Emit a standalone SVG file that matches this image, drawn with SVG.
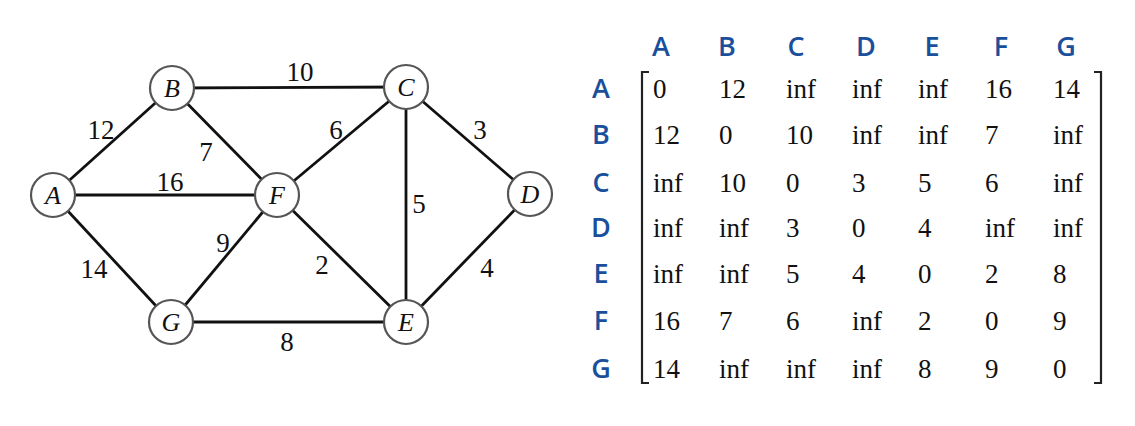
<svg xmlns="http://www.w3.org/2000/svg" width="1135" height="426" viewBox="0 0 1135 426">
<style>
.node circle{fill:#fff;stroke:#555;stroke-width:2.2}
.node text{font-family:"Liberation Serif",serif;font-style:italic;font-size:26px;text-anchor:middle;fill:#111}
.edge line{stroke:#111;stroke-width:2.8}
.w{font-family:"Liberation Serif",serif;font-size:27px;fill:#111;text-anchor:middle}
.hd{font-family:"Open Sans","Liberation Sans",sans-serif;font-size:27px;font-weight:600;fill:#1a4f9c;text-anchor:middle}
.v{font-family:"Liberation Serif",serif;font-size:27px;fill:#111}
.br{fill:none;stroke:#222;stroke-width:2.2}
</style>
<rect width="1135" height="426" fill="#fff"/>
<g id="connectors" class="edge">
<line x1="53" y1="195" x2="172" y2="88"/>
<line x1="172" y1="88" x2="406" y2="87"/>
<line x1="172" y1="88" x2="277" y2="195"/>
<line x1="53" y1="195" x2="277" y2="195"/>
<line x1="277" y1="195" x2="406" y2="87"/>
<line x1="406" y1="87" x2="530" y2="194"/>
<line x1="406" y1="87" x2="406" y2="322"/>
<line x1="53" y1="195" x2="171" y2="322"/>
<line x1="171" y1="322" x2="277" y2="195"/>
<line x1="277" y1="195" x2="406" y2="322"/>
<line x1="530" y1="194" x2="406" y2="322"/>
<line x1="171" y1="322" x2="406" y2="322"/>
</g>
<g id="edge-labels">
<text class="w" x="101" y="139">12</text>
<text class="w" x="300" y="81">10</text>
<text class="w" x="206" y="161">7</text>
<text class="w" x="170" y="191">16</text>
<text class="w" x="336" y="139">6</text>
<text class="w" x="480" y="139">3</text>
<text class="w" x="419" y="213">5</text>
<text class="w" x="223" y="252">9</text>
<text class="w" x="322" y="274">2</text>
<text class="w" x="94" y="278">14</text>
<text class="w" x="487" y="277">4</text>
<text class="w" x="287" y="351">8</text>
</g>
<g id="node-A" class="node"><circle cx="53" cy="195" r="22"/><text x="53" y="204">A</text></g>
<g id="node-B" class="node"><circle cx="172" cy="88" r="22"/><text x="172" y="97">B</text></g>
<g id="node-C" class="node"><circle cx="406" cy="87" r="22"/><text x="406" y="96">C</text></g>
<g id="node-D" class="node"><circle cx="530" cy="194" r="22"/><text x="530" y="203">D</text></g>
<g id="node-E" class="node"><circle cx="406" cy="322" r="22"/><text x="406" y="331">E</text></g>
<g id="node-F" class="node"><circle cx="277" cy="195" r="22"/><text x="277" y="204">F</text></g>
<g id="node-G" class="node"><circle cx="171" cy="322" r="22"/><text x="171" y="331">G</text></g>
<g id="matrix">
<g id="headers">
<text class="hd" x="661" y="56">A</text>
<text class="hd" x="727" y="56">B</text>
<text class="hd" x="796" y="56">C</text>
<text class="hd" x="866" y="56">D</text>
<text class="hd" x="932" y="56">E</text>
<text class="hd" x="1001" y="56">F</text>
<text class="hd" x="1066" y="56">G</text>
<text class="hd" x="601" y="98">A</text>
<text class="hd" x="601" y="144">B</text>
<text class="hd" x="601" y="192">C</text>
<text class="hd" x="601" y="237">D</text>
<text class="hd" x="601" y="283">E</text>
<text class="hd" x="601" y="330">F</text>
<text class="hd" x="601" y="378">G</text>
</g>
<path class="br" d="M649 72 H642 V383 H649"/>
<path class="br" d="M1094 72 H1101 V383 H1094"/>
<g id="values">
<text class="v" y="98"><tspan x="653">0</tspan><tspan x="719">12</tspan><tspan x="786">inf</tspan><tspan x="852">inf</tspan><tspan x="918">inf</tspan><tspan x="985">16</tspan><tspan x="1053">14</tspan></text>
<text class="v" y="144"><tspan x="653">12</tspan><tspan x="719">0</tspan><tspan x="786">10</tspan><tspan x="852">inf</tspan><tspan x="918">inf</tspan><tspan x="985">7</tspan><tspan x="1053">inf</tspan></text>
<text class="v" y="192"><tspan x="653">inf</tspan><tspan x="719">10</tspan><tspan x="786">0</tspan><tspan x="852">3</tspan><tspan x="918">5</tspan><tspan x="985">6</tspan><tspan x="1053">inf</tspan></text>
<text class="v" y="237"><tspan x="653">inf</tspan><tspan x="719">inf</tspan><tspan x="786">3</tspan><tspan x="852">0</tspan><tspan x="918">4</tspan><tspan x="985">inf</tspan><tspan x="1053">inf</tspan></text>
<text class="v" y="283"><tspan x="653">inf</tspan><tspan x="719">inf</tspan><tspan x="786">5</tspan><tspan x="852">4</tspan><tspan x="918">0</tspan><tspan x="985">2</tspan><tspan x="1053">8</tspan></text>
<text class="v" y="330"><tspan x="653">16</tspan><tspan x="719">7</tspan><tspan x="786">6</tspan><tspan x="852">inf</tspan><tspan x="918">2</tspan><tspan x="985">0</tspan><tspan x="1053">9</tspan></text>
<text class="v" y="378"><tspan x="653">14</tspan><tspan x="719">inf</tspan><tspan x="786">inf</tspan><tspan x="852">inf</tspan><tspan x="918">8</tspan><tspan x="985">9</tspan><tspan x="1053">0</tspan></text>
</g>
</g>
</svg>
